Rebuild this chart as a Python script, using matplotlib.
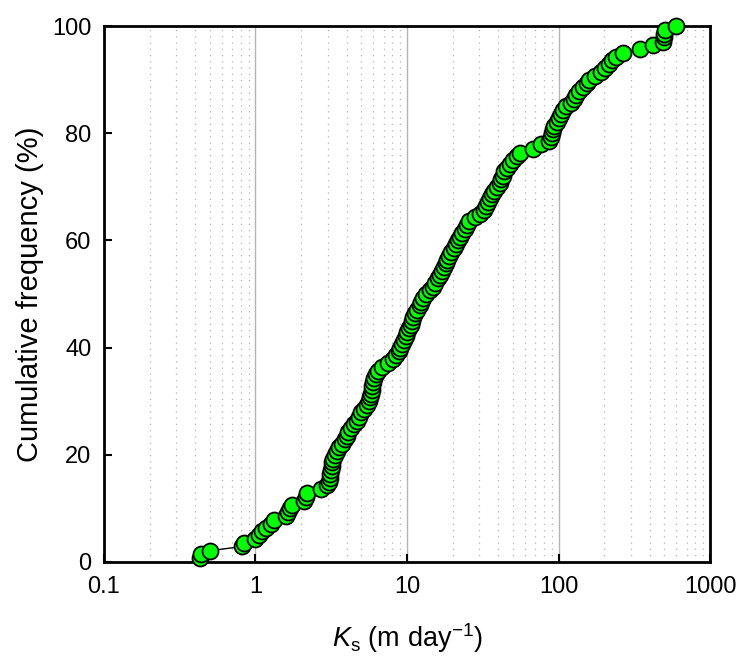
import matplotlib
matplotlib.use("Agg")
import matplotlib.pyplot as plt
from matplotlib.ticker import LogLocator, NullFormatter, FixedLocator

plt.rcParams['font.family'] = ['Liberation Sans', 'DejaVu Sans']
plt.rcParams['mathtext.fontset'] = 'custom'
plt.rcParams['mathtext.rm'] = 'Liberation Sans'
plt.rcParams['mathtext.it'] = 'Liberation Sans:italic'

# Saturated hydraulic conductivity values (m/day), sorted
ks = [0.43, 0.44, 0.50, 0.82, 0.84, 1.0, 1.05, 1.1, 1.17, 1.27, 1.32, 1.6, 1.65, 1.68,
      1.75, 2.1, 2.15, 2.2, 2.7, 2.95, 3.05, 3.1, 3.12, 3.15, 3.18, 3.22, 3.27, 3.35,
      3.45, 3.55, 3.75, 3.9, 4.0, 4.1, 4.25, 4.5, 4.7, 4.85, 4.95, 5.2, 5.45, 5.6,
      5.7, 5.78, 5.85, 5.9, 5.95, 6.05, 6.2, 6.4, 6.8, 7.5, 8.1, 8.5, 8.8, 9.0,
      9.3, 9.55, 9.8, 10.0, 10.3, 10.55, 10.8, 11.0, 11.3, 11.7, 12.1, 12.4, 12.8, 13.3,
      14.2, 14.8, 15.3, 16.0, 16.6, 17.0, 17.5, 18.0, 18.5, 19.0, 19.6, 20.3, 21.0, 21.8,
      22.5, 23.2, 24.0, 24.8, 25.8, 28.0, 30.5, 32.0, 33.3, 34.5, 35.5, 36.5, 37.5, 39.0,
      41.0, 42.0, 43.0, 44.0, 45.5, 47.5, 50.0, 53.0, 56.0, 68.0, 77.0, 86.0, 89.0, 91.0,
      92.5, 94.0, 97.0, 101.0, 104.0, 107.0, 112.0, 120.0, 127.0, 131.0, 137.0, 145.0, 153.0, 160.0,
      175.0, 190.0, 203.0, 215.0, 226.0, 240.0, 268.0, 343.0, 420.0, 490.0, 495.0, 500.0, 505.0, 600.0]

# Cumulative frequency (%)
cum_freq = [0.7, 1.4, 2.1, 2.9, 3.6, 4.3, 5.0, 5.7, 6.4, 7.1, 7.9, 8.6, 9.3, 10.0,
            10.7, 11.4, 12.1, 12.9, 13.6, 14.3, 15.0, 15.7, 16.4, 17.1, 17.9, 18.6, 19.3, 20.0,
            20.7, 21.4, 22.1, 22.9, 23.6, 24.3, 25.0, 25.7, 26.4, 27.1, 27.9, 28.6, 29.3, 30.0,
            30.7, 31.4, 32.1, 32.9, 33.6, 34.3, 35.0, 35.7, 36.4, 37.1, 37.9, 38.6, 39.3, 40.0,
            40.7, 41.4, 42.1, 42.9, 43.6, 44.3, 45.0, 45.7, 46.4, 47.1, 47.9, 48.6, 49.3, 50.0,
            50.7, 51.4, 52.1, 52.9, 53.6, 54.3, 55.0, 55.7, 56.4, 57.1, 57.9, 58.6, 59.3, 60.0,
            60.7, 61.4, 62.1, 62.9, 63.6, 64.3, 65.0, 65.7, 66.4, 67.1, 67.9, 68.6, 69.3, 70.0,
            70.7, 71.4, 72.1, 72.9, 73.6, 74.3, 75.0, 75.7, 76.4, 77.1, 77.9, 78.6, 79.3, 80.0,
            80.7, 81.4, 82.1, 82.9, 83.6, 84.3, 85.0, 85.7, 86.4, 87.1, 87.9, 88.6, 89.3, 90.0,
            90.7, 91.4, 92.1, 92.9, 93.6, 94.3, 95.0, 95.7, 96.4, 97.1, 97.9, 98.6, 99.3, 100.0]

x_ticks = [0.1, 1, 10, 100, 1000]
x_tick_labels = ["0.1", "1", "10", "100", "1000"]
y_ticks = [0, 20, 40, 60, 80, 100]

fig = plt.figure(figsize=(7.39, 6.59), dpi=100)
ax = fig.add_axes([0.1407, 0.1472, 0.8201, 0.8133])

ax.set_xscale('log')
ax.set_xlim(0.1, 1000)
ax.set_ylim(0, 100)

# grid: solid at decades, dotted at minor positions
ax.xaxis.set_major_locator(FixedLocator(x_ticks))
ax.xaxis.set_minor_locator(LogLocator(base=10, subs=range(2, 10), numticks=20))
ax.xaxis.set_minor_formatter(NullFormatter())
ax.grid(True, which='major', axis='x', color='#b4b4b4', linewidth=1.0, linestyle='-')
ax.grid(True, which='minor', axis='x', color='#b4b4b4', linewidth=0.9, linestyle=(0, (1, 4)))
ax.set_axisbelow(True)

ax.plot(ks, cum_freq, color='black', linewidth=1.0, marker='o', markersize=11.5,
        markerfacecolor='#00ff00', markeredgecolor='black', markeredgewidth=1.3,
        zorder=3, clip_on=False)

ax.set_xticks(x_ticks)
ax.set_xticklabels(x_tick_labels)
ax.set_yticks(y_ticks)
ax.tick_params(axis='both', which='major', direction='in', length=6, width=1.5,
               labelsize=17)
ax.tick_params(axis='x', which='minor', length=0)
ax.tick_params(axis='x', pad=10)
ax.tick_params(axis='y', pad=9)

for s in ax.spines.values():
    s.set_linewidth(2)

ax.set_xlabel(r'$K_\mathrm{s}$ (m day$^{-1}$)', fontsize=19.5, labelpad=17)
ax.set_ylabel('Cumulative frequency (%)', fontsize=21, labelpad=6)

fig.savefig('out.png', dpi=100)
